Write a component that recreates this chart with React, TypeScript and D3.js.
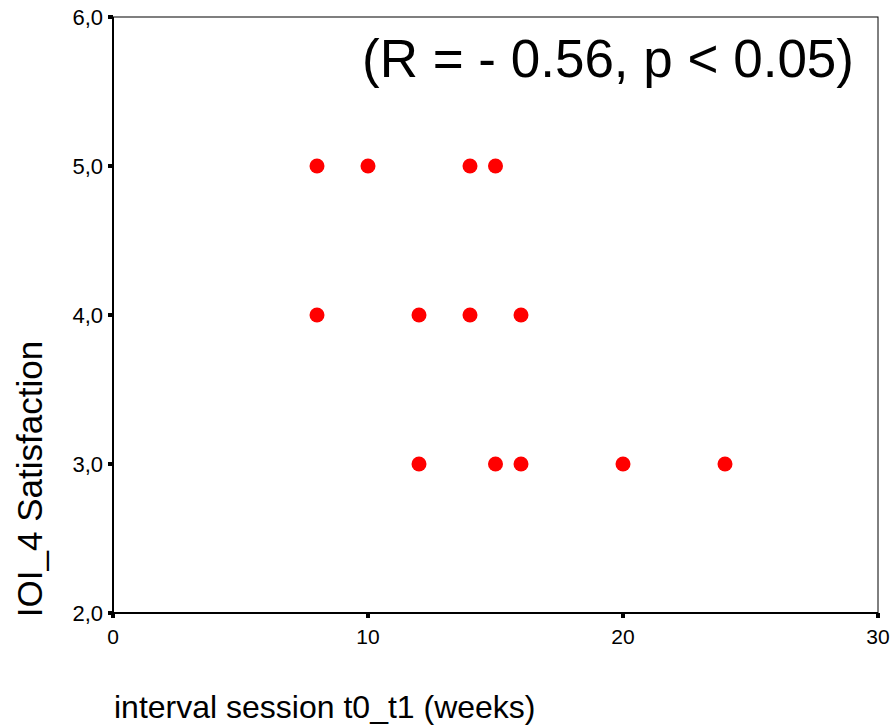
import React from "react";
import * as d3 from "d3";

const intervalWeeks = [8, 10, 14, 15, 8, 12, 14, 16, 12, 15, 16, 20, 24];
const satisfaction = [5, 5, 5, 5, 4, 4, 4, 4, 3, 3, 3, 3, 3];
const xTicks = [0, 10, 20, 30];
const yTicks = [2, 3, 4, 5, 6];

const WIDTH = 891;
const HEIGHT = 727;
const LEFT = 113;
const RIGHT = 878;
const TOP = 17;
const BOTTOM = 613;
const FONT = "'Liberation Sans', Arial, sans-serif";

export default function App() {
  const x = d3.scaleLinear().domain([0, 30]).range([LEFT, RIGHT]);
  const y = d3.scaleLinear().domain([2, 6]).range([BOTTOM, TOP]);
  const fmt = (v: number) => d3.format(".1f")(v).replace(".", ",");

  return (
    <svg
      width={WIDTH}
      height={HEIGHT}
      style={{ position: "absolute", left: 0, top: 0, background: "#fff" }}
      fontFamily={FONT}
    >
      <rect x={LEFT} y={TOP} width={RIGHT - LEFT} height={BOTTOM - TOP} fill="none" stroke="#000" strokeWidth={1} />
      <line x1={LEFT} x2={LEFT} y1={TOP} y2={BOTTOM + 1} stroke="#000" strokeWidth={2} />
      <line x1={LEFT - 1} x2={RIGHT} y1={BOTTOM} y2={BOTTOM} stroke="#000" strokeWidth={2} />

      {yTicks.map((t) => (
        <g key={"y" + t}>
          <rect x={LEFT - 5} y={y(t) - 2} width={5} height={4} fill="#000" />
          <text x={103} y={y(t)} dy="0.36em" textAnchor="end" fontSize={22}>
            {fmt(t)}
          </text>
        </g>
      ))}
      {xTicks.map((t) => (
        <g key={"x" + t}>
          <rect x={x(t) - 2} y={BOTTOM} width={4} height={5} fill="#000" />
          <text x={x(t)} y={644} textAnchor="middle" fontSize={21}>
            {t}
          </text>
        </g>
      ))}

      {intervalWeeks.map((w, i) => (
        <circle key={i} cx={x(w)} cy={y(satisfaction[i])} r={7.5} fill="#ff0000" />
      ))}

      <text x={854} y={77} textAnchor="end" fontSize={53}>
        (R = - 0.56, p &lt; 0.05)
      </text>

      <text
        transform={`translate(42, 479) rotate(-90)`}
        textAnchor="middle"
        fontSize={35}
      >
        IOI_4 Satisfaction
      </text>
      <text x={114} y={718} fontSize={32}>
        interval session t0_t1 (weeks)
      </text>
    </svg>
  );
}
